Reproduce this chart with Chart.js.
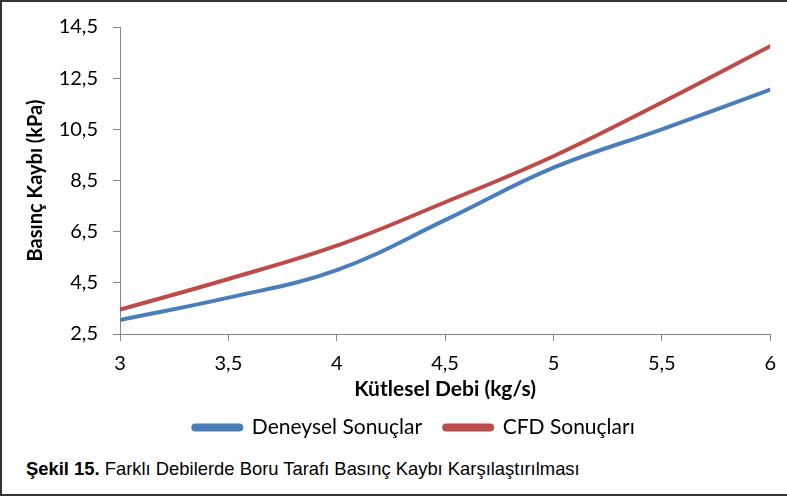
<!DOCTYPE html>
<html>
<head>
<meta charset="utf-8">
<script src="https://cdn.jsdelivr.net/npm/chart.js@4.4.1/dist/chart.umd.min.js"></script>
<style>
    body { margin: 0; background: #fff; }
    #wrap {
        position: relative;
        width: 787px;
        height: 496px;
        box-sizing: border-box;
        border-left: 2px solid #333;
        border-top: 2px solid #333;
        border-bottom: 2px solid #333;
    }
    #chartBox { position: absolute; left: -2px; top: -2px; width: 787px; height: 448px; }
    #caption {
        position: absolute;
        left: 24px;
        top: 456px;
        font-family: "Liberation Sans", Arial, sans-serif;
        font-size: 18.4px;
        color: #000;
        white-space: nowrap;
    }
</style>
</head>
<body>
<div id="wrap">
    <div id="chartBox"><canvas id="canvasBasinc"></canvas></div>
    <div id="caption"><b>Şekil 15.</b> Farklı Debilerde Boru Tarafı Basınç Kaybı Karşılaştırılması</div>
</div>
<script>
"use strict";

var debi = [3, 3.5, 4, 4.5, 5, 5.5, 6];
var deneysel = [3.05, 3.92, 5.0, 6.95, 9.0, 10.5, 12.05];
var cfd = [3.45, 4.65, 5.95, 7.65, 9.45, 11.55, 13.75];
var xTicks = [3, 3.5, 4, 4.5, 5, 5.5, 6];
var yTicks = [2.5, 4.5, 6.5, 8.5, 10.5, 12.5, 14.5];

var seriesNames = ['Deneysel Sonuçlar', 'CFD Sonuçları'];
var lineColors = ['#4A7EBB', '#BE4B48'];

function ToPoints(values) {
    var pts = [];
    for (var i = 0; i < values.length; i++) {
        pts.push({ x: debi[i], y: values[i] });
    }
    return pts;
}

function Virgul(v) {
    return String(v).replace('.', ',');
}

var axisColor = '#868686';
var fontFam = 'Lato, "Open Sans", sans-serif';

function MakeDataset(index, values) {
    return {
        label: seriesNames[index],
        data: ToPoints(values),
        borderColor: lineColors[index],
        backgroundColor: lineColors[index],
        borderWidth: 4,
        pointRadius: 0,
        tension: 0.4,
        borderCapStyle: 'round'
    };
}

const context = document.getElementById('canvasBasinc');
const myChart = new Chart(context, {
    type: 'line',
    data: {
        datasets: [MakeDataset(0, deneysel), MakeDataset(1, cfd)]
    },
    options: {
        responsive: true,
        maintainAspectRatio: false,
        animation: false,
        layout: { padding: { left: 55, right: 14, top: 25, bottom: 0 } },
        plugins: {
            tooltip: { enabled: false },
            legend: {
                position: 'bottom',
                labels: {
                    color: '#000',
                    font: { family: fontFam, size: 21 },
                    boxWidth: 48,
                    boxHeight: 4,
                    useBorderRadius: true,
                    borderRadius: 2,
                    padding: 22
                }
            }
        },
        scales: {
            x: {
                type: 'linear',
                min: 3,
                max: 6,
                afterBuildTicks: function (scale) {
                    scale.ticks = xTicks.map(function (v) { return { value: v }; });
                },
                afterFit: function (scale) { scale.height = 61; },
                border: { color: axisColor, width: 1 },
                grid: { display: true, drawOnChartArea: false, drawTicks: true, tickLength: 7, color: axisColor },
                ticks: {
                    color: '#000',
                    font: { family: fontFam, size: 20 },
                    maxRotation: 0,
                    padding: 11,
                    callback: function (v) { return Virgul(v); }
                },
                title: {
                    display: true,
                    text: 'Kütlesel Debi (kg/s)',
                    color: '#000',
                    font: { family: fontFam, size: 21, weight: 'bold' },
                    padding: { top: 0, bottom: -7 }
                }
            },
            y: {
                type: 'linear',
                min: 2.5,
                max: 14.5,
                afterBuildTicks: function (scale) {
                    scale.ticks = yTicks.map(function (v) { return { value: v }; });
                },
                afterFit: function (scale) { scale.width = 65; },
                border: { color: axisColor, width: 1 },
                grid: { display: true, drawOnChartArea: false, drawTicks: true, tickLength: 7, color: axisColor },
                ticks: {
                    color: '#000',
                    font: { family: fontFam, size: 20 },
                    padding: 15,
                    callback: function (v) { return Virgul(v); }
                },
                title: {
                    display: true,
                    text: 'Basınç Kaybı (kPa)',
                    color: '#000',
                    font: { family: fontFam, size: 20, weight: 'bold' },
                    padding: { top: -31, bottom: 0 }
                }
            }
        }
    }
});
</script>
</body>
</html>
